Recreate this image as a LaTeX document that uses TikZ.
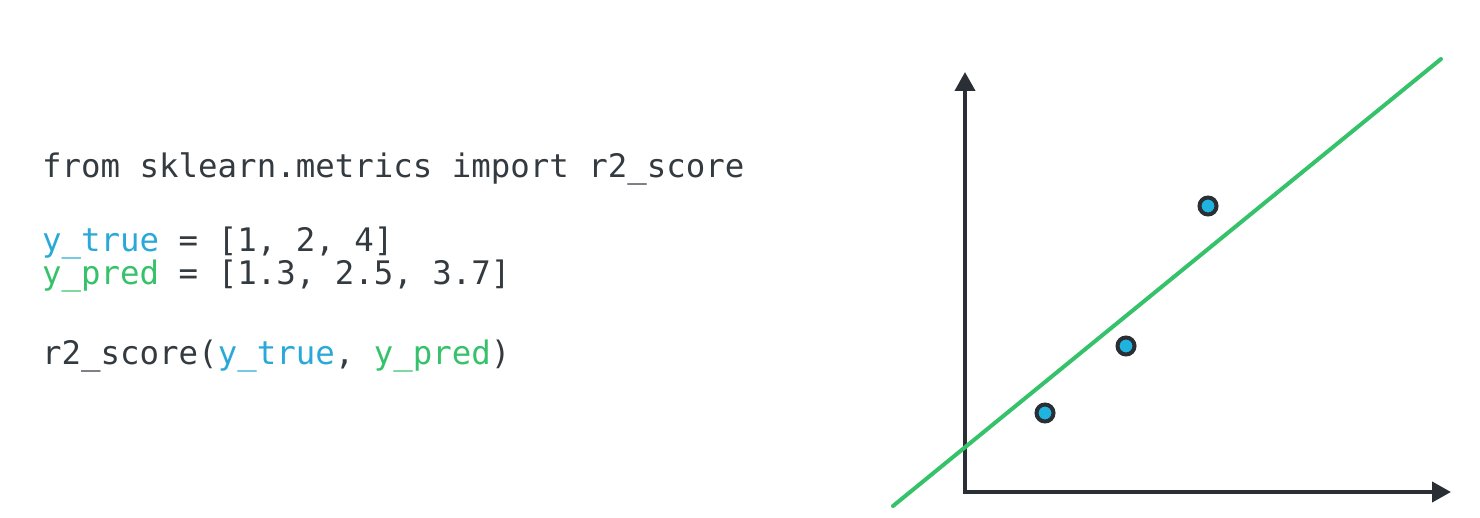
\documentclass[tikz,border=0pt]{standalone}
\usepackage{fontspec}
\setmonofont{DejaVu Sans Mono}
\usetikzlibrary{arrows.meta}

\definecolor{codegray}{HTML}{333A40}
\definecolor{truecyan}{HTML}{2AA9D8}
\definecolor{predgreen}{HTML}{36C26A}
\definecolor{axisdark}{HTML}{2A2F36}
\definecolor{dotcyan}{HTML}{1FB4E0}

\tikzset{
  codeline/.style={anchor=base west, inner sep=0pt, text=codegray,
    font=\ttfamily\fontsize{32.4pt}{34pt}\selectfont},
  axisline/.style={draw=axisdark, line width=4pt, -{Triangle[length=19pt,width=20pt]}},
  fitline/.style={draw=predgreen, line width=4pt, line cap=round},
  datadot/.style={circle, draw=axisdark, fill=dotcyan, line width=4pt,
    minimum size=17pt, inner sep=0pt}
}

\begin{document}
\begin{tikzpicture}[x=1pt, y=-1pt]
  \useasboundingbox (0,0) rectangle (1480,518);

  % code
  \node[codeline] (imp) at (42,178) {from sklearn.metrics import r2\_score};
  \node[codeline] (ytrue) at (42,252) {\textcolor{truecyan}{y\_true} = [1, 2, 4]};
  \node[codeline] (ypred) at (42,285) {\textcolor{predgreen}{y\_pred} = [1.3, 2.5, 3.7]};
  \node[codeline] (call) at (42,365) {r2\_score(\textcolor{truecyan}{y\_true}, \textcolor{predgreen}{y\_pred})};

  % axes
  \coordinate (origin) at (965,492);
  \coordinate (ytip) at (965,72);
  \coordinate (xtip) at (1451,492);
  \draw[axisline] ([yshift=2pt]origin) -- (ytip);
  \draw[axisline] ([xshift=-2pt]origin) -- (xtip);

  % fitted line
  \coordinate (fitlo) at (893,506);
  \coordinate (fithi) at (1441,59);
  \draw[fitline] (fitlo) -- (fithi);

  % data points
  \node[datadot] (p1) at (1045,413) {};
  \node[datadot] (p2) at (1126,346) {};
  \node[datadot] (p3) at (1208,206) {};
\end{tikzpicture}
\end{document}
